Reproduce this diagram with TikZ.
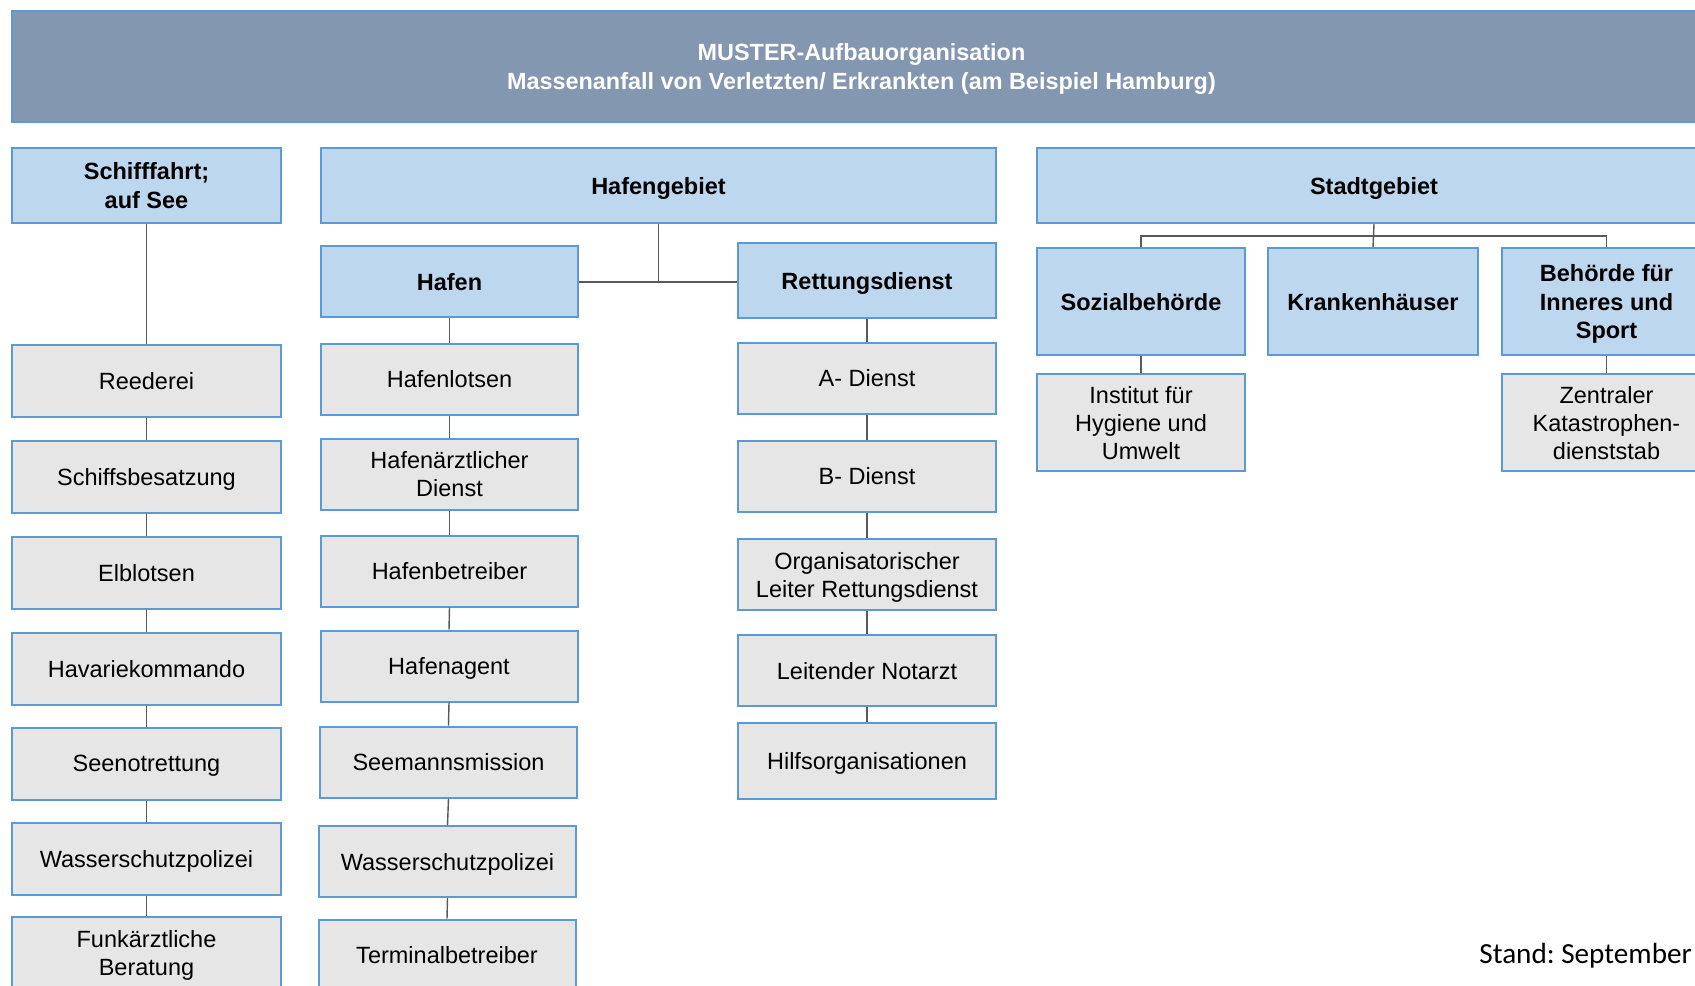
\documentclass[tikz,border=0pt]{standalone}
\usepackage{fontspec}
\setmainfont{Liberation Sans}
\newfontfamily\calfont{Carlito}
\definecolor{hdrfill}{HTML}{8497B0}
\definecolor{bordblue}{HTML}{5B9BD5}
\definecolor{lightblue}{HTML}{BDD7EE}
\definecolor{grayfill}{HTML}{E6E6E6}
\definecolor{linecol}{HTML}{595959}
\frenchspacing
\begin{document}
\begin{tikzpicture}[x=0.5pt,y=-0.5pt,
  base/.style={draw=bordblue,line width=1pt,inner sep=0pt,align=center,text depth=0pt,
    font=\fontsize{11.75pt}{14pt}\selectfont},
  hdr/.style={base,fill=hdrfill,text=white,font=\fontsize{11.7pt}{14.5pt}\selectfont\bfseries},
  bluebox/.style={base,fill=lightblue,font=\fontsize{11.75pt}{14.3pt}\selectfont\bfseries},
  graybox/.style={base,fill=grayfill},
  colL/.style={minimum width=134.5pt,minimum height=36pt},
  colH/.style={minimum width=128.5pt,minimum height=35.5pt},
  colR/.style={minimum width=129pt,minimum height=35.5pt},
  colS/.style={minimum width=104pt},
  conn/.style={draw=linecol,line width=0.7pt}]
\useasboundingbox (0,0) rectangle (1695,985);
\clip (0,0) rectangle (1695,985);
\fill[white] (0,0) rectangle (1695,985);

% header
\node[hdr,minimum width=849.5pt,minimum height=55.5pt] (head) at (861.5,66.5)
  {MUSTER-Aufbauorganisation\\Massenanfall von Verletzten/ Erkrankten (am Beispiel Hamburg)};

% top level
\node[bluebox,colL,minimum height=37.5pt] (schiff) at (146.5,185.5) {Schifffahrt;\\auf See};
\node[bluebox,minimum width=337.5pt,minimum height=37.5pt] (hgeb) at (658.5,185.5) {Hafengebiet};
\node[bluebox,minimum width=337pt,minimum height=37.5pt] (sgeb) at (1374,185.5) {Stadtgebiet};

% left column
\node[graybox,colL] (reed) at (146.5,381) {Reederei};
\node[graybox,colL] (besatz) at (146.5,476.5) {Schiffsbesatzung};
\node[graybox,colL] (elb) at (146.5,572.5) {Elblotsen};
\node[graybox,colL] (hav) at (146.5,669) {Havariekommando};
\node[graybox,colL] (seenot) at (146.5,763.5) {Seenotrettung};
\node[graybox,colL] (wsp1) at (146.5,858.5) {Wasserschutzpolizei};
\node[graybox,colL] (funk) at (146.5,953) {Funkärztliche\\Beratung};

% Hafen column
\node[bluebox,colH] (hafen) at (449.5,281.5) {Hafen};
\node[graybox,colH] (lotsen) at (449.5,379) {Hafenlotsen};
\node[graybox,colH] (arzt) at (449.5,474) {Hafenärztlicher\\Dienst};
\node[graybox,colH] (betr) at (449.5,571) {Hafenbetreiber};
\node[graybox,colH] (agent) at (449,666) {Hafenagent};
\node[graybox,colH] (mission) at (448.5,762) {Seemannsmission};
\node[graybox,colH] (wsp2) at (447.5,861.5) {Wasserschutzpolizei};
\node[graybox,colH] (term) at (447,955) {Terminalbetreiber};

% Rettungsdienst column
\node[bluebox,colR,minimum height=37.5pt] (rett) at (867,280.5) {Rettungsdienst};
\node[graybox,colR] (adienst) at (867,378) {A- Dienst};
\node[graybox,colR] (bdienst) at (867,476) {B- Dienst};
\node[graybox,colR] (orgl) at (867,574.5) {Organisatorischer\\Leiter Rettungsdienst};
\node[graybox,colR] (lna) at (867,670.5) {Leitender Notarzt};
\node[graybox,colR,minimum height=38pt] (hilfs) at (867,760.5) {Hilfsorganisationen};

% Stadtgebiet
\node[bluebox,colS,minimum height=53.5pt] (sozial) at (1141,301.5) {Sozialbehörde};
\node[bluebox,minimum width=105pt,minimum height=53.5pt] (kranken) at (1373,301.5) {Krankenhäuser};
\node[bluebox,minimum width=104.5pt,minimum height=53.5pt] (bis) at (1606.5,301.5) {Behörde für\\Inneres und\\Sport};
\node[graybox,colS,minimum height=48.5pt] (inst) at (1141,422.5) {Institut für\\Hygiene und\\Umwelt};
\node[graybox,minimum width=104.5pt,minimum height=48.5pt] (zks) at (1606.5,422.5) {Zentraler\\Katastrophen-\\dienststab};

% connectors
\draw[conn] (schiff.south) -- (reed.north);
\draw[conn] (reed.south) -- (besatz.north);
\draw[conn] (besatz.south) -- (elb.north);
\draw[conn] (elb.south) -- (hav.north);
\draw[conn] (hav.south) -- (seenot.north);
\draw[conn] (seenot.south) -- (wsp1.north);
\draw[conn] (wsp1.south) -- (funk.north);

\coordinate (hj) at (hgeb.south |- 0,282);
\draw[conn] (hgeb.south) -- (hj);
\draw[conn] (hafen.east |- hj) -- (rett.west |- hj);

\draw[conn] (hafen.south) -- (lotsen.north);
\draw[conn] (lotsen.south) -- (arzt.north);
\draw[conn] (arzt.south) -- (betr.north);
\draw[conn] (betr.south) -- (agent.north);
\draw[conn] (agent.south) -- (mission.north);
\draw[conn] (mission.south) -- (wsp2.north);
\draw[conn] (wsp2.south) -- (term.north);

\draw[conn] (rett.south) -- (adienst.north);
\draw[conn] (adienst.south) -- (bdienst.north);
\draw[conn] (bdienst.south) -- (orgl.north);
\draw[conn] (orgl.south) -- (lna.north);
\draw[conn] (lna.south) -- (hilfs.north);

\coordinate (sbus) at (sgeb.south |- 0,236);
\draw[conn] (sgeb.south) -- (kranken.north);
\draw[conn] (sozial.north) |- (sbus) -| (bis.north);
\draw[conn] (sozial.south) -- (inst.north);
\draw[conn] (bis.south) -- (zks.north);

% footer
\node[anchor=base west,inner sep=0pt,font=\calfont\fontsize{14.6pt}{17pt}\selectfont] (stand) at (1479,963) {Stand: September};
\end{tikzpicture}
\end{document}
